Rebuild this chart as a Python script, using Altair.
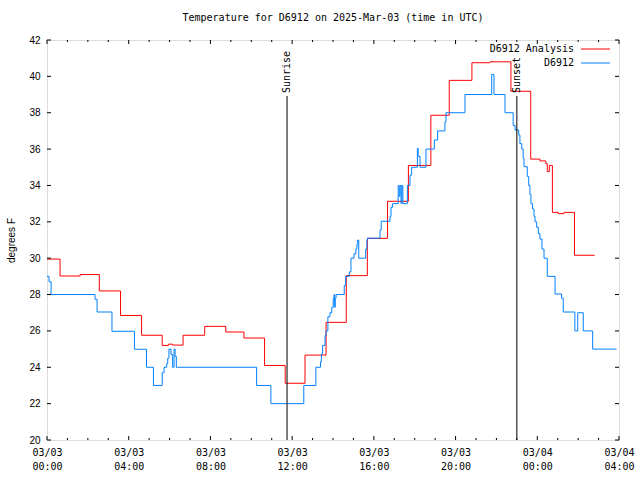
import altair as alt
import pandas as pd

TITLE = "Temperature for D6912 on 2025-Mar-03 (time in UTC)"
series_names = ["D6912 Analysis", "D6912"]
series_colors = ["#ff0000", "#0080ff"]

# hours after 2025-03-03 00:00 UTC, step values (deg F)
red_hours = [0, 0.64, 1.62, 2.56, 3.6, 4.63, 5.64, 5.94, 6.15, 6.66, 7.72, 8.75,
             9.64, 10.65, 11.66, 12.63, 13.66, 14.65, 15.68, 16.67, 17.69, 18.79,
             19.69, 20.8, 21.68, 22.71, 23.68, 24.13, 24.42, 24.49, 24.59, 24.74,
             25.03, 25.31, 25.82, 26.81]
red_vals = [29.95, 29.02, 29.1, 28.2, 26.85, 25.76, 25.2, 25.27, 25.22, 25.76, 26.25, 25.94,
            25.61, 24.1, 23.12, 24.67, 26.47, 29.04, 31.09, 33.13, 35.1, 37.86,
            39.78, 40.75, 40.8, 39.18, 35.45, 35.35, 35.2, 34.76, 35.1, 32.52,
            32.45, 32.52, 30.16, 30.16]

blue_hours = [0, 0.1, 0.2, 2.35, 2.45, 3.18, 4.28, 4.87, 5.21, 5.64, 5.73, 5.86, 5.91,
              5.97, 6.07, 6.15, 6.22, 6.27, 6.33, 10.26, 10.96, 12.57, 13.16, 13.39,
              13.43, 13.49, 13.61, 13.66, 13.75, 13.85, 13.94, 14.01, 14.05, 14.08,
              14.11, 14.15, 14.55, 14.62, 14.8, 14.88, 15.03, 15.12, 15.17, 15.21,
              15.26, 15.6, 15.66, 15.69, 16.3, 16.36, 16.79, 16.84, 16.92, 17.19,
              17.24, 17.28, 17.33, 17.37, 17.42, 17.64, 17.77, 17.85, 18.13, 18.17,
              18.26, 18.55, 18.96, 19.12, 19.48, 19.53, 20.46, 21.77, 21.88, 22.42,
              22.82, 22.91, 23.09, 23.15, 23.24, 23.31, 23.35, 23.51, 23.58, 23.64,
              23.69, 23.77, 23.84, 23.89, 23.97, 24.05, 24.13, 24.23, 24.33, 24.49,
              24.87, 25.19, 25.27, 25.84, 25.98, 26.25, 26.71, 27.88]
blue_vals = [29.0, 28.7, 28.0, 27.74, 27.04, 25.98, 24.99, 24.0, 23.0, 23.7, 24.0, 24.2, 24.5,
             25.0, 24.7, 24.0, 25.0, 24.6, 24.0, 23.0, 22.0, 23.0, 24.0, 24.3,
             24.73, 25.2, 25.74, 26.0, 26.78, 27.0, 27.3, 27.8, 28.0, 27.3,
             27.8, 28.0, 28.5, 29.0, 29.25, 30.0, 30.25, 30.5, 30.75, 31.0,
             30.0, 30.5, 31.0, 31.1, 31.55, 32.03, 32.3, 32.8, 33.0, 34.0,
             33.4, 34.0, 33.0, 34.0, 33.0, 34.0, 34.57, 35.0, 36.04, 35.6,
             35.0, 36.0, 36.5, 37.0, 37.5, 38.0, 39.0, 40.1, 39.0, 38.0,
             37.3, 37.05, 36.77, 36.3, 36.0, 35.5, 35.03, 34.5, 34.0, 33.5,
             33.0, 32.7, 32.3, 32.0, 31.7, 31.35, 31.05, 30.5, 30.0, 29.0,
             28.03, 27.8, 27.04, 26.0, 27.0, 26.0, 25.0, 25.0]

event_hours = [11.75, 23.0]
event_labels = ["Sunrise", "Sunset"]

y_tick_vals = [20, 22, 24, 26, 28, 30, 32, 34, 36, 38, 40, 42]
x_major_hours = [0, 4, 8, 12, 16, 20, 24, 28]
x_minor_hours = [h for h in range(0, 29) if h % 4 != 0]

BASE = pd.Timestamp("2025-03-03 00:00:00")


def iso(h):
    return (BASE + pd.Timedelta(hours=h)).strftime("%Y-%m-%dT%H:%M:%SZ")


def dt(h):
    ts = BASE + pd.Timedelta(hours=h)
    return alt.DateTime(year=int(ts.year), month=int(ts.month), date=int(ts.day),
                        hours=int(ts.hour), minutes=int(ts.minute), utc=True)


series_df = pd.DataFrame({
    "t": [iso(h) for h in red_hours] + [iso(h) for h in blue_hours],
    "v": red_vals + blue_vals,
    "s": [series_names[0]] * len(red_hours) + [series_names[1]] * len(blue_hours),
})
ev_df = pd.DataFrame({"t": [iso(h) for h in event_hours], "label": event_labels})
xmaj_df = pd.DataFrame({"t": [iso(h) for h in x_major_hours]})
xmin_df = pd.DataFrame({"t": [iso(h) for h in x_minor_hours]})
yt_df = pd.DataFrame({"v": y_tick_vals})
leg_df = pd.DataFrame({"s": series_names})

W, H = 572, 400
MONO = "DejaVu Sans Mono"
SANS = "Liberation Sans"

XS = alt.Scale(type="utc", domain=[dt(0), dt(28)])
YS = alt.Scale(domain=[20, 42], nice=False, zero=False)
CS = alt.Scale(domain=series_names, range=series_colors)

x_axis = alt.Axis(
    values=[dt(h) for h in x_major_hours],
    labelExpr="[utcFormat(datum.value, '%m/%d'), utcFormat(datum.value, '%H:%M')]",
    ticks=False, domain=False, grid=False, tickSize=0,
    labelFont=MONO, labelFontSize=10, labelColor="black",
    labelPadding=7, labelBaseline="top", labelLineHeight=14,
    labelFlush=False, labelOverlap=False, title=None,
)
y_axis = alt.Axis(
    values=y_tick_vals, ticks=False, domain=False, grid=False, tickSize=0,
    labelFont=SANS, labelFontSize=10, labelColor="black", labelPadding=7,
    title="degrees F", titleFont=SANS, titleFontSize=10, titleFontWeight="normal",
    titleColor="black", titlePadding=12,
)


def X():
    return alt.X("t:T", scale=XS, axis=x_axis)


def Y():
    return alt.Y("v:Q", scale=YS, axis=y_axis)


lines = alt.Chart(series_df).mark_line(interpolate="step-after", strokeWidth=1).encode(
    x=X(),
    y=Y(),
    color=alt.Color("s:N", scale=CS, legend=None),
)

ev_rule = alt.Chart(ev_df).mark_rule(color="black", strokeWidth=1).encode(
    x=X(), y=alt.value(H), y2=alt.value(56)
)
ev_text = alt.Chart(ev_df).mark_text(
    angle=270, align="left", baseline="middle", font=MONO, fontSize=10, color="black"
).encode(x=X(), y=alt.value(53), text="label:N")


def xticks(df, y0, y1):
    return alt.Chart(df).mark_rule(color="black", strokeWidth=1).encode(
        x=X(), y=alt.value(y0), y2=alt.value(y1)
    )


def yticks(x0, x1):
    return alt.Chart(yt_df).mark_rule(color="black", strokeWidth=1).encode(
        y=Y(), x=alt.value(x0), x2=alt.value(x1)
    )


def legend_row(name, ypix):
    base = alt.Chart(leg_df).transform_filter(alt.datum.s == name)
    txt = base.mark_text(
        align="right", baseline="middle", font=MONO, fontSize=10, color="black"
    ).encode(x=alt.value(527), y=alt.value(ypix), text="s:N")
    sample = base.mark_rule(strokeWidth=1).encode(
        x=alt.value(534), x2=alt.value(563), y=alt.value(ypix),
        color=alt.Color("s:N", scale=CS, legend=None),
    )
    return [txt, sample]


chart = alt.layer(
    lines, ev_rule, ev_text,
    xticks(xmaj_df, H, H - 4), xticks(xmaj_df, 0, 4),
    xticks(xmin_df, H, H - 2), xticks(xmin_df, 0, 2),
    yticks(0, 4), yticks(W, W - 4),
    *legend_row(series_names[0], 9), *legend_row(series_names[1], 23),
).properties(
    width=W, height=H,
    title=alt.TitleParams(TITLE, font=MONO, fontSize=10, fontWeight="normal",
                          color="black", anchor="middle", frame="group", offset=12),
    autosize=alt.AutoSizeParams(type="none"),
    padding={"left": 47, "top": 40, "right": 21, "bottom": 40},
).configure_view(stroke="black", strokeWidth=1).configure(background="white")

chart.save("out.html", embed_options={"renderer": "svg", "actions": False})
